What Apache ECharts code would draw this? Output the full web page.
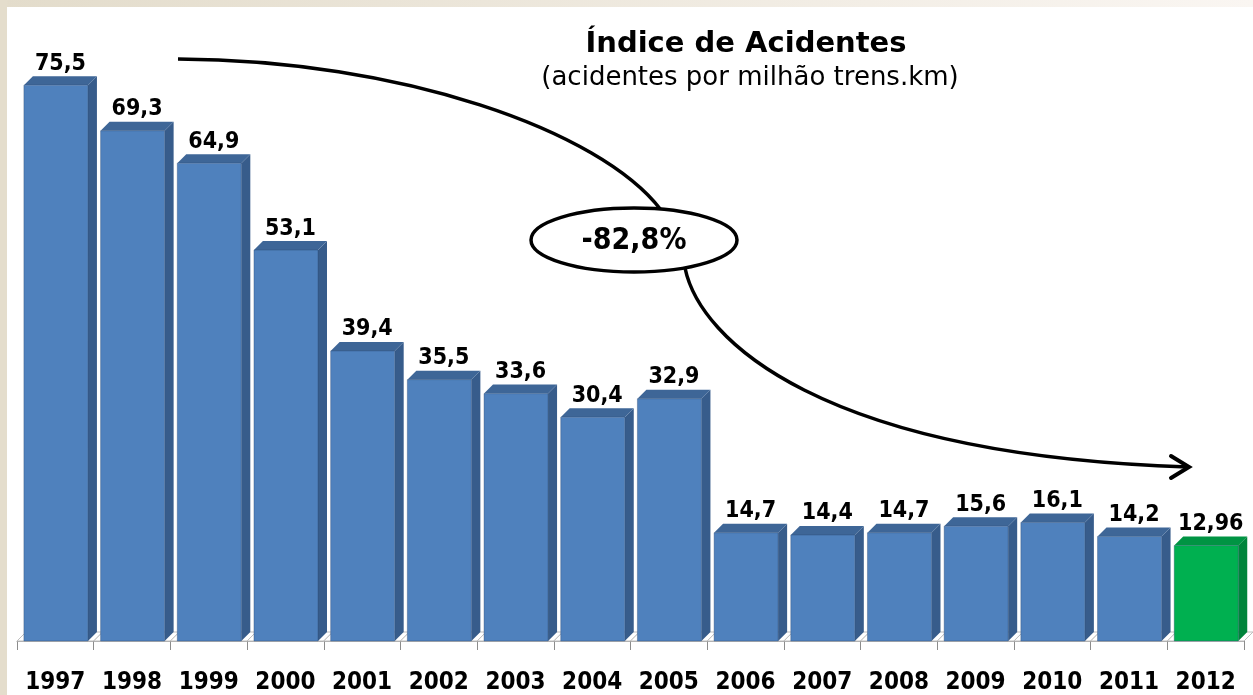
<!DOCTYPE html>
<html>
<head>
<meta charset="utf-8">
<script src="https://cdn.jsdelivr.net/npm/echarts@6/dist/echarts.min.js"></script>
<style>html,body{margin:0;padding:0;background:#fff}#c{width:1253px;height:695px}</style>
</head>
<body>
<div id="c"></div>
<script>
const years = ['1997','1998','1999','2000','2001','2002','2003','2004','2005','2006','2007','2008','2009','2010','2011','2012'];
const values = [75.5, 69.3, 64.9, 53.1, 39.4, 35.5, 33.6, 30.4, 32.9, 14.7, 14.4, 14.7, 15.6, 16.1, 14.2, 12.96];
const highlightIndex = 15;
const titleText = 'Índice de Acidentes';
const subtitleText = '(acidentes por milhão trens.km)';
const changeText = '-82,8%';

const NUMFONT = "'DejaVu Sans Condensed','DejaVu Sans',sans-serif";
const BLUE = {front:'#4f81bd', side:'#375c8b', top:'#3e6697'};
const GREEN = {front:'#00b050', side:'#00843b', top:'#009443'};
const D = 9;

const chart = echarts.init(document.getElementById('c'));

function floorItem(params, api) {
  const c = api.coord([api.value(0), 0]);
  const w = api.size([1, 0])[0];
  const cs = c[0] - w / 2, yb = c[1];
  return {type:'polygon', shape:{points:[[cs,yb],[cs+w,yb],[cs+w+D,yb-D],[cs+D,yb-D]]},
    style:{fill:'#ffffff', stroke:'#bfbfbf', lineWidth:1}};
}

function barItem(params, api) {
  const idx = api.value(0), v = api.value(1);
  const top = api.coord([idx, v]);
  const base = api.coord([idx, 0]);
  const w = api.size([1, 0])[0];
  const cs = top[0] - w / 2;
  const x0 = cs + w * 0.09, x1 = x0 + w * 0.835;
  const yt = top[1], yb = base[1];
  const col = idx === highlightIndex ? GREEN : BLUE;
  const label = String(values[idx]).replace('.', ',');
  return {type:'group', children:[
    {type:'polygon', shape:{points:[[x1,yt],[x1+D,yt-D],[x1+D,yb-D],[x1,yb]]}, style:{fill:col.side}},
    {type:'polygon', shape:{points:[[x0,yt],[x1,yt],[x1+D,yt-D],[x0+D,yt-D]]}, style:{fill:col.top}},
    {type:'rect', shape:{x:x0, y:yt, width:x1-x0, height:yb-yt}, style:{fill:col.front, stroke:'rgba(40,70,110,0.35)', lineWidth:1}},
    {type:'text', style:{text:label, x:(x0 + x1 + D)/2, y:yt - D - 1, align:'center', verticalAlign:'bottom',
      fontSize:23, fontWeight:'bold', fontFamily:NUMFONT, fill:'#000'}}
  ]};
}

const data = values.map((v, i) => [i, v]);

chart.setOption({
  backgroundColor:'#ffffff',
  animation:false,
  grid:{left:17, right:9, top:52, bottom:54},
  xAxis:{type:'category', data:years, boundaryGap:true,
    axisLine:{show:true, lineStyle:{color:'#a6a6a6', width:1}},
    axisTick:{show:true, length:9, lineStyle:{color:'#8c8c8c'}},
    axisLabel:{color:'#000', fontSize:24, fontWeight:'bold', fontFamily:NUMFONT, margin:30, interval:0}},
  yAxis:{type:'value', min:0, max:80, show:false, splitLine:{show:false}},
  series:[
    {type:'custom', renderItem:floorItem, data:data, z:1, clip:false, silent:true},
    {type:'custom', renderItem:barItem, data:data, z:2, clip:false}
  ],
  graphic:[
    {type:'rect', shape:{x:0, y:0, width:1253, height:7}, z:100,
      style:{fill:new echarts.graphic.LinearGradient(0,0,1,0,[{offset:0,color:'#e3dccb'},{offset:1,color:'#faf6f2'}])}},
    {type:'rect', shape:{x:0, y:0, width:7, height:695}, z:100, style:{fill:'#e4ddcc'}},
    {type:'text', x:746, y:44, z:100, style:{text:titleText, align:'center', verticalAlign:'middle',
      fontSize:29, fontWeight:'bold', fontFamily:"'DejaVu Sans',sans-serif", fill:'#000'}},
    {type:'text', x:750, y:78, z:100, style:{text:subtitleText, align:'center', verticalAlign:'middle',
      fontSize:26, fontFamily:"'DejaVu Sans',sans-serif", fill:'#000'}},
    {type:'bezierCurve', z:100, shape:{x1:178, y1:59, cpx1:400, cpy1:60, cpx2:600, cpy2:130, x2:661, y2:210},
      style:{stroke:'#000', lineWidth:3.5, fill:null}},
    {type:'bezierCurve', z:100, shape:{x1:685, y1:268, cpx1:700, cpy1:340, cpx2:820, cpy2:455, x2:1188, y2:467},
      style:{stroke:'#000', lineWidth:3.5, fill:null}},
    {type:'polyline', z:100, shape:{points:[[1171,456],[1189,467],[1171,478]]},
      style:{stroke:'#000', lineWidth:4, lineCap:'round', lineJoin:'miter', fill:null}},
    {type:'ellipse', z:101, shape:{cx:634, cy:240, rx:103, ry:32}, style:{fill:'#ffffff', stroke:'#000', lineWidth:3.5}},
    {type:'text', x:634, y:241, z:102, style:{text:changeText, align:'center', verticalAlign:'middle',
      fontSize:30, fontWeight:'bold', fontFamily:NUMFONT, fill:'#000'}}
  ]
});
</script>
</body>
</html>
